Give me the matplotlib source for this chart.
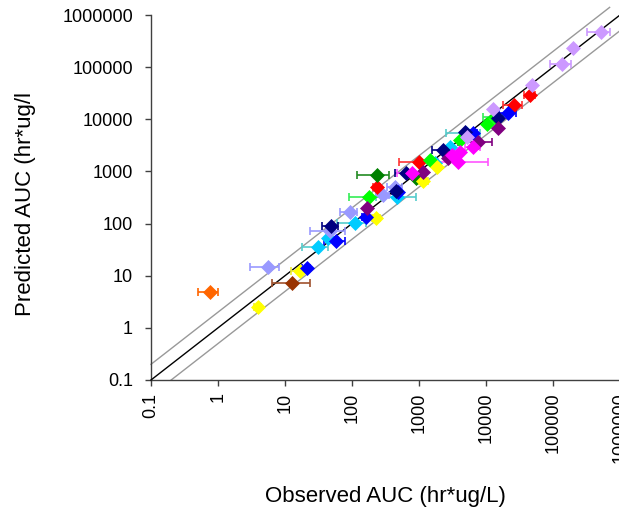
import numpy as np
import matplotlib
matplotlib.use('Agg')
import matplotlib.pyplot as plt
from matplotlib.ticker import NullLocator

plt.rcParams['font.family'] = ['Liberation Sans', 'DejaVu Sans']

# series: marker colour, error bar colour (drawing order)
colors = ['#00CCFF', '#9999FF', '#FF0000', '#00FF00', '#008000', '#FFFF00',
          '#0000FF', '#000080', '#CC99FF', '#800080', '#FF00FF', '#FF6600', '#993300']
ecolors = ['#55CCCC', '#9999FF', '#FF3333', '#33EE55', '#228B22', '#EEEE33',
           '#0000FF', '#000080', '#CC99FF', '#800080', '#FF55FF', '#FF6600', '#A0522D']

# observed AUC, predicted AUC, +/- error on observed, series index
obs = [31, 44, 110, 464, 1734, 2904, 5090,
       5.5, 47, 93, 293, 444,
       234, 1009, 26100, 45400,
       179, 1458, 4093, 10230, 13500,
       236, 902,
       3.9, 16.7, 228, 1159, 1876,
       21, 58, 162, 487, 6472, 21570,
       48.6, 450, 640, 2312, 4864, 15280,
       5155, 12860, 49100, 137000, 196700, 517000,
       166, 1159, 2740, 7656, 15280,
       778, 3076, 4093, 3862, 6471,
       0.75,
       12.9]
pred = [35, 52, 104, 328, 1432, 2978, 5460,
        15, 72, 169, 353, 510,
        503, 1538, 18800, 29240,
        328, 1656, 4009, 8130, 11220,
        836, 738,
        2.5, 12.5, 126, 656, 1233,
        13.9, 47, 136, 408, 5370, 12970,
        90, 430, 921, 2576, 5780, 10440,
        4634, 15560, 45500, 113500, 236000, 466700,
        196, 988, 1786, 3589, 6710,
        946, 2065, 2394, 1496, 2980,
        4.8,
        7.2]
err = [13, 0, 50, 440, 0, 0, 3000,
       2.5, 32, 27, 65, 108,
       25, 555, 8000, 8000,
       94, 0, 0, 0, 4500,
       120, 0,
       0.5, 4.4, 30, 200, 0,
       3, 20, 20, 60, 800, 6000,
       13, 50, 200, 760, 0, 0,
       0, 0, 0, 47000, 0, 190000,
       0, 0, 0, 4500, 0,
       314, 0, 0, 6960, 1650,
       0.25,
       11]
grp = [0, 0, 0, 0, 0, 0, 0,
       1, 1, 1, 1, 1,
       2, 2, 2, 2,
       3, 3, 3, 3, 3,
       4, 4,
       5, 5, 5, 5, 5,
       6, 6, 6, 6, 6, 6,
       7, 7, 7, 7, 7, 7,
       8, 8, 8, 8, 8, 8,
       9, 9, 9, 9, 9,
       10, 10, 10, 10, 10,
       11,
       12]

ticks = [0.1, 1, 10, 100, 1000, 10000, 100000, 1000000]
tick_labels = ['0.1', '1', '10', '100', '1000', '10000', '100000', '1000000']

obs = np.array(obs, dtype=float)
pred = np.array(pred, dtype=float)
err = np.array(err, dtype=float)
grp = np.array(grp)

fig = plt.figure(figsize=(6.19, 5.09), dpi=100)
ax = fig.add_axes([151 / 619, 129 / 509, 469 / 619, 365 / 509])
ax.set_xscale('log')
ax.set_yscale('log')

# unity line and two-fold lines
ax.plot([0.1, 1e6], [0.1, 1e6], color='black', lw=1, zorder=3, clip_on=False)
ax.plot([0.1, 7e5], [0.2, 1.4e6], color='#999999', lw=1, zorder=2, clip_on=False)
ax.plot([0.2, 1e6], [0.1, 5e5], color='#999999', lw=1, zorder=2, clip_on=False)

for i in range(len(colors)):
    m = grp == i
    x = obs[m]
    lo = np.minimum(err[m], 0.5 * x)
    ax.errorbar(x, pred[m], xerr=[lo, err[m]], fmt='none', ecolor=ecolors[i],
                elinewidth=1.2, capsize=3, capthick=1.2, zorder=4)
    ax.plot(x, pred[m], 'D', color=colors[i], ms=7, mec=colors[i], mew=0.5,
            zorder=5)

ax.set_xlim(0.1, 1e6)
ax.set_ylim(0.1, 1e6)
ax.set_xticks(ticks, tick_labels, rotation=90)
ax.set_yticks(ticks, tick_labels)
ax.xaxis.set_minor_locator(NullLocator())
ax.yaxis.set_minor_locator(NullLocator())

for s in ['top', 'right']:
    ax.spines[s].set_visible(False)
for s in ['left', 'bottom']:
    ax.spines[s].set_color('#404040')
    ax.spines[s].set_linewidth(1)
ax.tick_params(axis='both', direction='out', length=4, width=1, color='#404040',
               labelsize=13, labelcolor='black')
ax.tick_params(axis='x', pad=5)
ax.tick_params(axis='y', pad=9)

ax.set_xlabel('Observed AUC (hr*ug/L)', fontsize=16)
ax.set_ylabel('Predicted AUC (hr*ug/l', fontsize=16)
ax.xaxis.set_label_coords(0.5, -0.29)
ax.yaxis.set_label_coords(-0.245, 0.482)

fig.savefig('out.png', dpi=100)
